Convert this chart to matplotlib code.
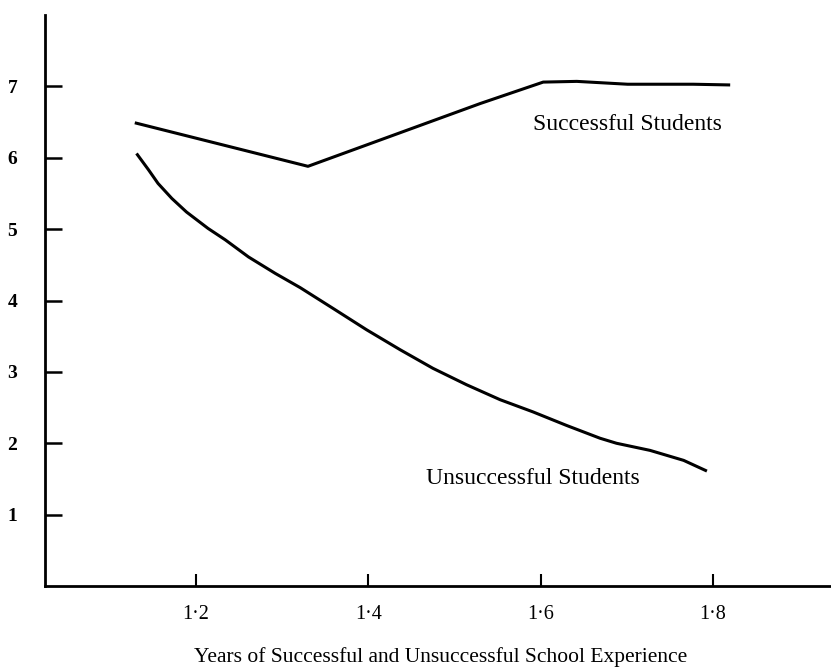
import matplotlib
matplotlib.use("Agg")
import matplotlib.pyplot as plt

# Data
succ_x = [1.129, 1.330, 1.530, 1.603, 1.642, 1.701, 1.777, 1.820]
succ_y = [6.49, 5.88, 6.76, 7.06, 7.07, 7.03, 7.03, 7.02]

unsucc_x = [1.131, 1.145, 1.156, 1.172, 1.189, 1.214, 1.234, 1.261, 1.292,
            1.321, 1.359, 1.398, 1.437, 1.475, 1.514, 1.553, 1.591, 1.630,
            1.669, 1.688, 1.727, 1.766, 1.793]
unsucc_y = [6.06, 5.83, 5.64, 5.43, 5.24, 5.01, 4.85, 4.61, 4.38,
            4.18, 3.89, 3.59, 3.31, 3.05, 2.82, 2.61, 2.44, 2.25,
            2.07, 2.00, 1.90, 1.76, 1.61]

x_ticks = [1.2, 1.4, 1.6, 1.8]
x_tick_labels = ["1·2", "1·4", "1·6", "1·8"]
y_ticks = [1, 2, 3, 4, 5, 6, 7]
y_tick_labels = ["1", "2", "3", "4", "5", "6", "7"]

label_succ = "Successful Students"
label_unsucc = "Unsuccessful Students"
x_label = "Years of Successful and Unsuccessful School Experience"

FONT = "Liberation Serif"

fig = plt.figure(figsize=(8.31, 6.71), dpi=100)
ax = fig.add_axes([45/831, 1 - 586/671, 1 - 45/831, (586 - 15)/671])

ax.plot(succ_x, succ_y, color="black", lw=2.2, solid_capstyle="butt",
        solid_joinstyle="round")
ax.plot(unsucc_x, unsucc_y, color="black", lw=2.2, solid_capstyle="butt",
        solid_joinstyle="round")

ax.set_xlim(1.0248, 1.937)
ax.set_ylim(0, 8)

for s in ["top", "right"]:
    ax.spines[s].set_visible(False)
for s in ["left", "bottom"]:
    ax.spines[s].set_linewidth(2.0)

ax.set_xticks(x_ticks)
ax.set_xticklabels(x_tick_labels, fontfamily=FONT, fontsize=14.5)
ax.set_yticks(y_ticks)
ax.set_yticklabels(y_tick_labels, fontfamily=FONT, fontsize=14, fontweight="bold")
ax.tick_params(axis="y", direction="in", length=12, width=1.8, pad=20)
ax.tick_params(axis="x", direction="in", length=9, width=1.5, pad=14)

ax.text(1.701, 6.46, label_succ, ha="center", va="center",
        fontfamily=FONT, fontsize=17)
ax.text(1.591, 1.51, label_unsucc, ha="center", va="center",
        fontfamily=FONT, fontsize=17)

fig.text(441/831, 1 - 657/671, x_label, ha="center", va="center",
         fontfamily=FONT, fontsize=15.5)

fig.savefig("out.png", dpi=100)
